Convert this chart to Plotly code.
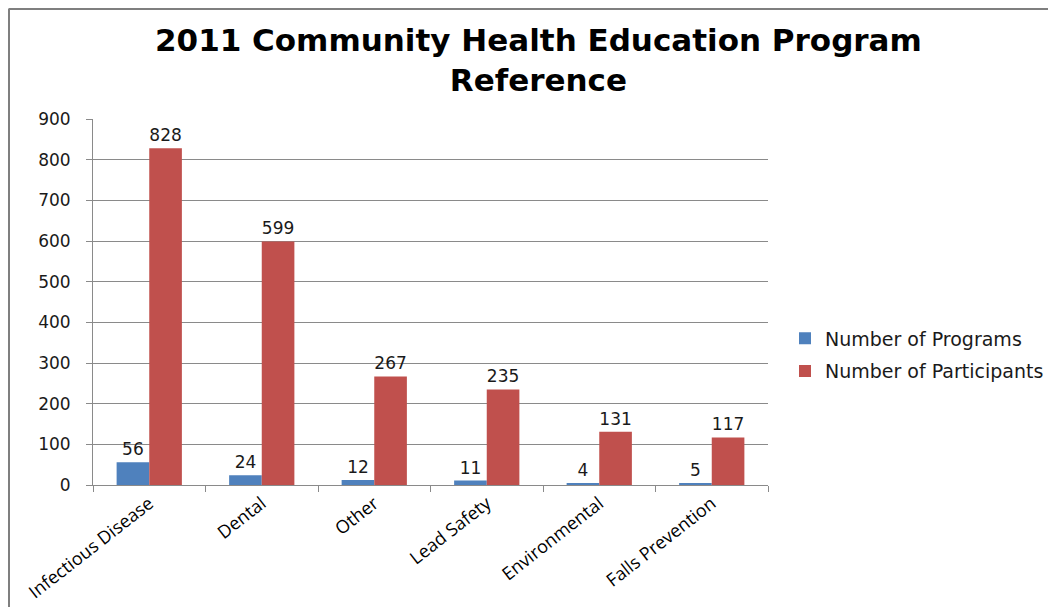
import plotly.graph_objects as go

categories = ["Infectious Disease", "Dental", "Other", "Lead Safety", "Environmental", "Falls Prevention"]
programs = [56, 24, 12, 11, 4, 5]
participants = [828, 599, 267, 235, 131, 117]
y_ticks = [0, 100, 200, 300, 400, 500, 600, 700, 800, 900]

# page renders the figure with an 8px body margin; work in reference pixels
OFF = 8
W, H = 1056 - OFF, 607 - OFF
L, R, T, B = 93 - OFF, 768 - OFF, 119 - OFF, 485 - OFF

def px_x(p):
    return (p - OFF - L) / (R - L)

def px_y(p):
    return (B - (p - OFF)) / (B - T)

label_font = dict(family="DejaVu Sans", size=17, color="#1a1a1a")

fig = go.Figure()
fig.add_trace(go.Bar(
    x=categories, y=programs, name="Number of Programs",
    marker=dict(color="#4F81BD", line=dict(width=0)),
    text=programs, textposition="outside", textfont=label_font,
    cliponaxis=False, legendgroup="a",
))
fig.add_trace(go.Bar(
    x=categories, y=participants, name="Number of Participants",
    marker=dict(color="#C0504D", line=dict(width=0)),
    text=participants, textposition="outside", textfont=label_font,
    cliponaxis=False, legendgroup="b",
))

grid = "#8a8a8a"
fig.update_layout(
    width=W, height=H,
    margin=dict(l=L, r=W - R, t=T, b=H - B, pad=0, autoexpand=False),
    paper_bgcolor="white", plot_bgcolor="white",
    barmode="group", bargap=0.42, bargroupgap=0,
    showlegend=True,
    legend=dict(
        x=px_x(785), xanchor="left", y=px_y(355), yanchor="middle",
        font=dict(family="DejaVu Sans", size=19, color="#1a1a1a"),
        traceorder="grouped", tracegroupgap=5,
        bgcolor="rgba(0,0,0,0)",
    ),
    xaxis=dict(
        type="category", tickson="boundaries", ticks="outside", ticklen=6,
        tickcolor=grid, showline=True, linecolor=grid, linewidth=1,
        showgrid=False, tickangle=-38, automargin=False,
        tickfont=dict(family="Open Sans", size=18, color="black"),
    ),
    yaxis=dict(
        range=[0, 900], tickvals=y_ticks, ticks="outside", ticklen=6,
        tickcolor=grid, showline=True, linecolor=grid, linewidth=1,
        showgrid=True, gridcolor=grid, gridwidth=1, zeroline=False,
        tickfont=dict(family="DejaVu Sans", size=17, color="#1a1a1a"),
        ticklabelstandoff=12, automargin=False,
    ),
    annotations=[
        dict(
            text="<b>2011 Community Health Education Program<br>Reference</b>",
            xref="paper", yref="paper", x=px_x(538), y=px_y(60),
            xanchor="center", yanchor="middle", showarrow=False,
            font=dict(family="DejaVu Sans", size=31, color="black"),
        )
    ],
    shapes=[
        dict(type="line", xref="paper", yref="paper",
             x0=px_x(8.5), y0=px_y(9), x1=px_x(1070), y1=px_y(9),
             line=dict(color="#7f7f7f", width=2)),
        dict(type="line", xref="paper", yref="paper",
             x0=px_x(9), y0=px_y(9), x1=px_x(9), y1=px_y(620),
             line=dict(color="#7f7f7f", width=2)),
    ],
)

fig.write_html("out.html")
